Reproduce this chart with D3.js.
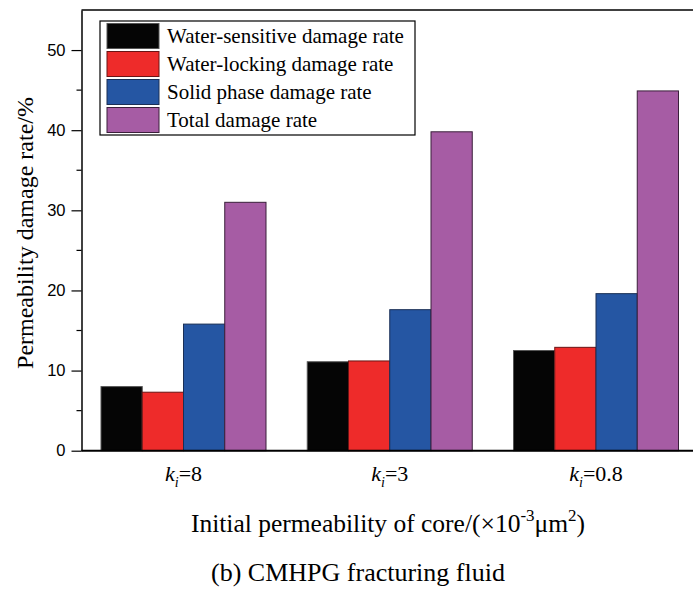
<!DOCTYPE html>
<meta charset="utf-8">
<script src="https://d3js.org/d3.v7.min.js"></script>
<style>
  body { margin: 0; background: #fff; }
  text { font-family: "Liberation Serif", "Times New Roman", serif; }
</style>
<div id="chart"></div>
<script>
// core permeability groups (k_i values)
var kValues = ["8", "3", "0.8"];
var seriesNames = ["Water-sensitive damage rate", "Water-locking damage rate", "Solid phase damage rate", "Total damage rate"];
var seriesColors = ["#050505", "#ee2b2a", "#2556a3", "#a65ca4"];
var seriesStrokes = ["#555555", "#6a1414", "#1a2f55", "#3a1f3a"];
// values, one array per series, in kValues order
var waterSensitive = [8.0, 11.1, 12.5];
var waterLocking = [7.3, 11.2, 12.9];
var solidPhase = [15.8, 17.6, 19.6];
var totalDamage = [31.0, 39.8, 44.9];
var yTicks = [0, 10, 20, 30, 40, 50];
var yMinorTicks = [5, 15, 25, 35, 45];

var W = 693, H = 598;
var plotLeft = 81.5, plotTop = 10, plotBottom = 450.7;

var series = [waterSensitive, waterLocking, solidPhase, totalDamage];

var svg = d3.select("#chart").append("svg")
    .attr("width", W)
    .attr("height", H);

var y = d3.scaleLinear().domain([0, 55]).range([plotBottom, plotTop]);

var x0 = d3.scaleBand().domain(kValues).range([101, 678.5]).paddingInner(0.2).paddingOuter(0);
var x1 = d3.scaleBand().domain(d3.range(series.length)).range([0, x0.bandwidth()]);

// bars
kValues.forEach(function (k, i) {
    var g = svg.append("g").attr("transform", "translate(" + x0(k) + ",0)");
    series.forEach(function (s, j) {
        g.append("rect")
            .attr("x", x1(j))
            .attr("y", y(s[i]))
            .attr("width", x1.bandwidth())
            .attr("height", y(0) - y(s[i]))
            .attr("fill", seriesColors[j])
            .attr("stroke", seriesStrokes[j])
            .attr("stroke-width", 1);
    });
});

// top frame line (plot runs off the right edge)
svg.append("line").attr("x1", plotLeft).attr("x2", W + 5).attr("y1", plotTop).attr("y2", plotTop)
    .attr("stroke", "#000").attr("stroke-width", 1.5);

// x axis
var xAxis = svg.append("g")
    .attr("transform", "translate(0," + plotBottom + ")")
    .call(d3.axisBottom(x0).tickSize(0).tickSizeOuter(0).tickFormat(""));
xAxis.select(".domain").attr("d", "M" + plotLeft + ",0H" + (W + 5)).attr("stroke-width", 2);
xAxis.selectAll(".tick").each(function (k) {
    var t = d3.select(this).append("text")
        .attr("y", 30)
        .attr("fill", "#000")
        .attr("font-size", 22)
        .attr("text-anchor", "middle")
        .style("font-family", "'Liberation Serif', serif");
    t.append("tspan").attr("font-style", "italic").text("k");
    t.append("tspan").attr("font-style", "italic").attr("font-size", 14).attr("dy", 6).text("i");
    t.append("tspan").attr("dy", -6).text("=" + k);
});

// y axis
var yAxis = svg.append("g")
    .attr("transform", "translate(" + plotLeft + ",0)")
    .call(d3.axisLeft(y).tickValues(yTicks).tickSize(10).tickSizeOuter(0).tickPadding(6));
yAxis.select(".domain").attr("stroke-width", 1.5);
yAxis.selectAll(".tick line").attr("stroke-width", 1.2);
yAxis.selectAll(".tick text")
    .attr("font-size", 16.5)
    .attr("fill", "#000")
    .style("font-family", "'Liberation Sans', Arial, sans-serif");
yAxis.selectAll(".minor").data(yMinorTicks).enter().append("line")
    .attr("class", "minor")
    .attr("x1", -5).attr("x2", 0)
    .attr("y1", function (d) { return y(d); })
    .attr("y2", function (d) { return y(d); })
    .attr("stroke", "#000").attr("stroke-width", 1.2);

// axis titles
svg.append("text")
    .attr("transform", "translate(33,233) rotate(-90)")
    .attr("text-anchor", "middle")
    .attr("font-size", 24)
    .text("Permeability damage rate/%");

var xt = svg.append("text")
    .attr("x", 388)
    .attr("y", 532)
    .attr("text-anchor", "middle")
    .attr("font-size", 25.5);
xt.append("tspan").text("Initial permeability of core/(\u00d710");
xt.append("tspan").attr("font-size", 17).attr("dy", -11).text("-3");
xt.append("tspan").attr("dy", 11).text("\u03bcm");
xt.append("tspan").attr("font-size", 17).attr("dy", -11).text("2");
xt.append("tspan").attr("dy", 11).text(")");

svg.append("text")
    .attr("x", 358)
    .attr("y", 581)
    .attr("text-anchor", "middle")
    .attr("font-size", 26)
    .text("(b) CMHPG fracturing fluid");

// legend
var lg = svg.append("g").attr("transform", "translate(100,21)");
lg.append("rect").attr("width", 315).attr("height", 114)
    .attr("fill", "#fff").attr("stroke", "#000").attr("stroke-width", 1.2);
seriesNames.forEach(function (name, j) {
    lg.append("rect")
        .attr("x", 7).attr("y", 2.5 + j * 28)
        .attr("width", 52).attr("height", 25)
        .attr("fill", seriesColors[j])
        .attr("stroke", seriesStrokes[j]);
    lg.append("text")
        .attr("x", 67).attr("y", 22 + j * 28)
        .attr("font-size", 21)
        .text(name);
});
</script>
